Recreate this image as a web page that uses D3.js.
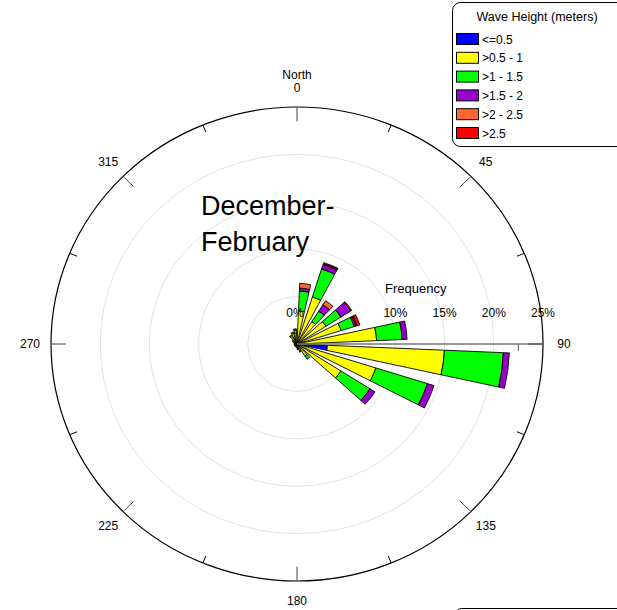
<!DOCTYPE html>
<html><head><meta charset="utf-8">
<script src="https://cdn.jsdelivr.net/npm/d3@7/dist/d3.min.js"></script>
<style>body{margin:0;background:#fff}svg{display:block;font-family:"Liberation Sans",Arial,sans-serif}</style>
</head><body>
<script>
// bin centres (degrees, clockwise from North)
const directions = [7.5,22.5,37.5,52.5,67.5,82.5,97.5,112.5,127.5,142.5,157.5,172.5,187.5,202.5,217.5,232.5,247.5,262.5,277.5,292.5,307.5,322.5,337.5,352.5];
// frequency (%) per wave-height class, per direction
const hLe05   = [0.2,0.2,0.1,0.1,0.1,0.2,3.1,0.3,0.2,0.1,0.1,0.1,0.1,0.1,0.1,0.1,0.1,0.1,0.1,0.1,0.1,0.1,0.1,0.1];
const h05to1  = [3.3,5.0,2.7,3.4,4.6,7.9,11.9,8.1,5.1,1.4,0.7,0.4,0.3,0.2,0.2,0.2,0.2,0.2,0.2,0.3,0.5,0.9,1.1,1.0];
const h1to15  = [2.1,3.1,1.3,1.8,1.4,2.6,6.0,5.5,3.5,0.4,0.1,0.1,0,0,0,0,0,0,0,0,0,0.1,0.1,0.4];
const h15to2  = [0.3,0.5,0.8,1.2,0.2,0.5,0.6,0.7,0.6,0,0,0,0,0,0,0,0,0,0,0,0,0,0,0.1];
const h2to25  = [0.5,0.1,0.5,0.1,0.1,0,0,0,0,0,0,0,0,0,0,0,0,0,0,0,0,0,0,0];
const hGt25   = [0,0.1,0,0,0.3,0,0,0,0,0,0,0,0,0,0,0,0,0,0,0,0,0,0,0];
const classLabels = ["<=0.5", ">0.5 - 1", ">1 - 1.5", ">1.5 - 2", ">2 - 2.5", ">2.5"];
const classColors = ["#0000ff", "#ffff00", "#00ff00", "#9900cc", "#ff6633", "#ff0000"];
const series = [hLe05, h05to1, h1to15, h15to2, h2to25, hGt25];
const freqTicks = [5, 10, 15, 20, 25];
const freqLabels = [0, 10, 15, 20, 25];
const dirLabels = [0, 45, 90, 135, 180, 225, 270, 315];
const dirTicks = d3.range(0, 360, 22.5);
const title = ["December-", "February"];

const W = 617, H = 610;
const cx = 297, cy = 344, rx = 246, ry = 237;
const svg = d3.select("body").append("svg").attr("width", W).attr("height", H);

const r = d3.scaleLinear().domain([0, 25]).range([0, rx]);
const toRad = d => d * Math.PI / 180;
const px = (deg, rr) => cx + rr * Math.sin(toRad(deg));
const py = (deg, rr) => cy - rr * (ry / rx) * Math.cos(toRad(deg));

// polar group (elliptical)
const g = svg.append("g").attr("transform", `translate(${cx},${cy}) scale(1,${ry / rx})`);

// grid
g.selectAll("circle.grid").data(freqTicks.slice(0, -1)).join("circle")
  .attr("r", d => r(d)).attr("fill", "none").attr("stroke", "#e2e2e2")
  .attr("stroke-width", 1).attr("vector-effect", "non-scaling-stroke");

// frequency axis line
svg.append("line").attr("x1", cx).attr("y1", cy).attr("x2", px(90, r(25))).attr("y2", cy)
  .attr("stroke", "#777").attr("stroke-width", 1.3);
svg.append("line").attr("x1", px(90, r(22.5))).attr("x2", px(90, r(22.5)))
  .attr("y1", cy).attr("y2", cy + 7).attr("stroke", "#777").attr("stroke-width", 1.3);

// stacked wedges
const arc = d3.arc();
const halfW = 5;
directions.forEach((dir, i) => {
  let cum = 0;
  series.forEach((s, k) => {
    const v = s[i];
    if (v <= 0) return;
    const a0 = cum; cum += v;
    g.append("path")
      .attr("d", arc({innerRadius: r(a0), outerRadius: r(cum), startAngle: toRad(dir - halfW), endAngle: toRad(dir + halfW)}))
      .attr("fill", classColors[k]).attr("stroke", "#000").attr("stroke-width", 0.9)
      .attr("stroke-linejoin", "miter").attr("vector-effect", "non-scaling-stroke");
  });
});

// outer circle
g.append("circle").attr("r", r(25)).attr("fill", "none").attr("stroke", "#000")
  .attr("stroke-width", 1.2).attr("vector-effect", "non-scaling-stroke");

// direction ticks
svg.selectAll("line.dt").data(dirTicks).join("line")
  .attr("x1", d => px(d, r(25))).attr("y1", d => py(d, r(25)))
  .attr("x2", d => px(d, r(25) - (d % 45 === 0 ? 15 : 8))).attr("y2", d => py(d, r(25) - (d % 45 === 0 ? 15 : 8)))
  .attr("stroke", d => d % 45 === 0 ? "#444" : "#000").attr("stroke-width", 1);

// direction labels
svg.selectAll("text.dl").data(dirLabels).join("text")
  .attr("x", d => px(d, r(25) + 21)).attr("y", d => py(d, r(25) + 21) + (d === 0 ? 5 : 4))
  .attr("text-anchor", "middle").attr("font-size", 12).attr("fill", "#000")
  .text(d => d);
svg.append("text").attr("x", px(0, 0)).attr("y", 78.5).attr("text-anchor", "middle")
  .attr("font-size", 12).text("North");

// frequency labels
svg.selectAll("text.fl").data(freqLabels).join("text")
  .attr("x", d => px(90, r(d)) - (d === 0 ? 2 : 0)).attr("y", 317)
  .attr("text-anchor", "middle").attr("font-size", 12).text(d => d + "%");
svg.append("text").attr("x", 385).attr("y", 293).attr("font-size", 13).text("Frequency");

// title
svg.selectAll("text.title").data(title).join("text")
  .attr("x", 201).attr("y", (d, i) => 215 + i * 36).attr("font-size", 27).text(d => d);

// legend
const lg = svg.append("g");
lg.append("rect").attr("x", 452.5).attr("y", 2.5).attr("width", 200).attr("height", 144)
  .attr("rx", 8).attr("fill", "#fff").attr("stroke", "#000").attr("stroke-width", 1);
lg.append("text").attr("x", 537).attr("y", 21).attr("text-anchor", "middle")
  .attr("font-size", 12.5).text("Wave Height (meters)");
classLabels.forEach((lab, i) => {
  lg.append("rect").attr("x", 456.5).attr("y", 33.5 + i * 18.8).attr("width", 22).attr("height", 11)
    .attr("fill", classColors[i]).attr("stroke", "#000").attr("stroke-width", 1);
  lg.append("text").attr("x", 482).attr("y", 43.5 + i * 18.8).attr("font-size", 12).text(lab);
});

// second (cut-off) box at bottom right
svg.append("rect").attr("x", 455.5).attr("y", 608.5).attr("width", 200).attr("height", 40)
  .attr("rx", 6).attr("fill", "#fff").attr("stroke", "#000").attr("stroke-width", 1);
</script>
</body></html>
